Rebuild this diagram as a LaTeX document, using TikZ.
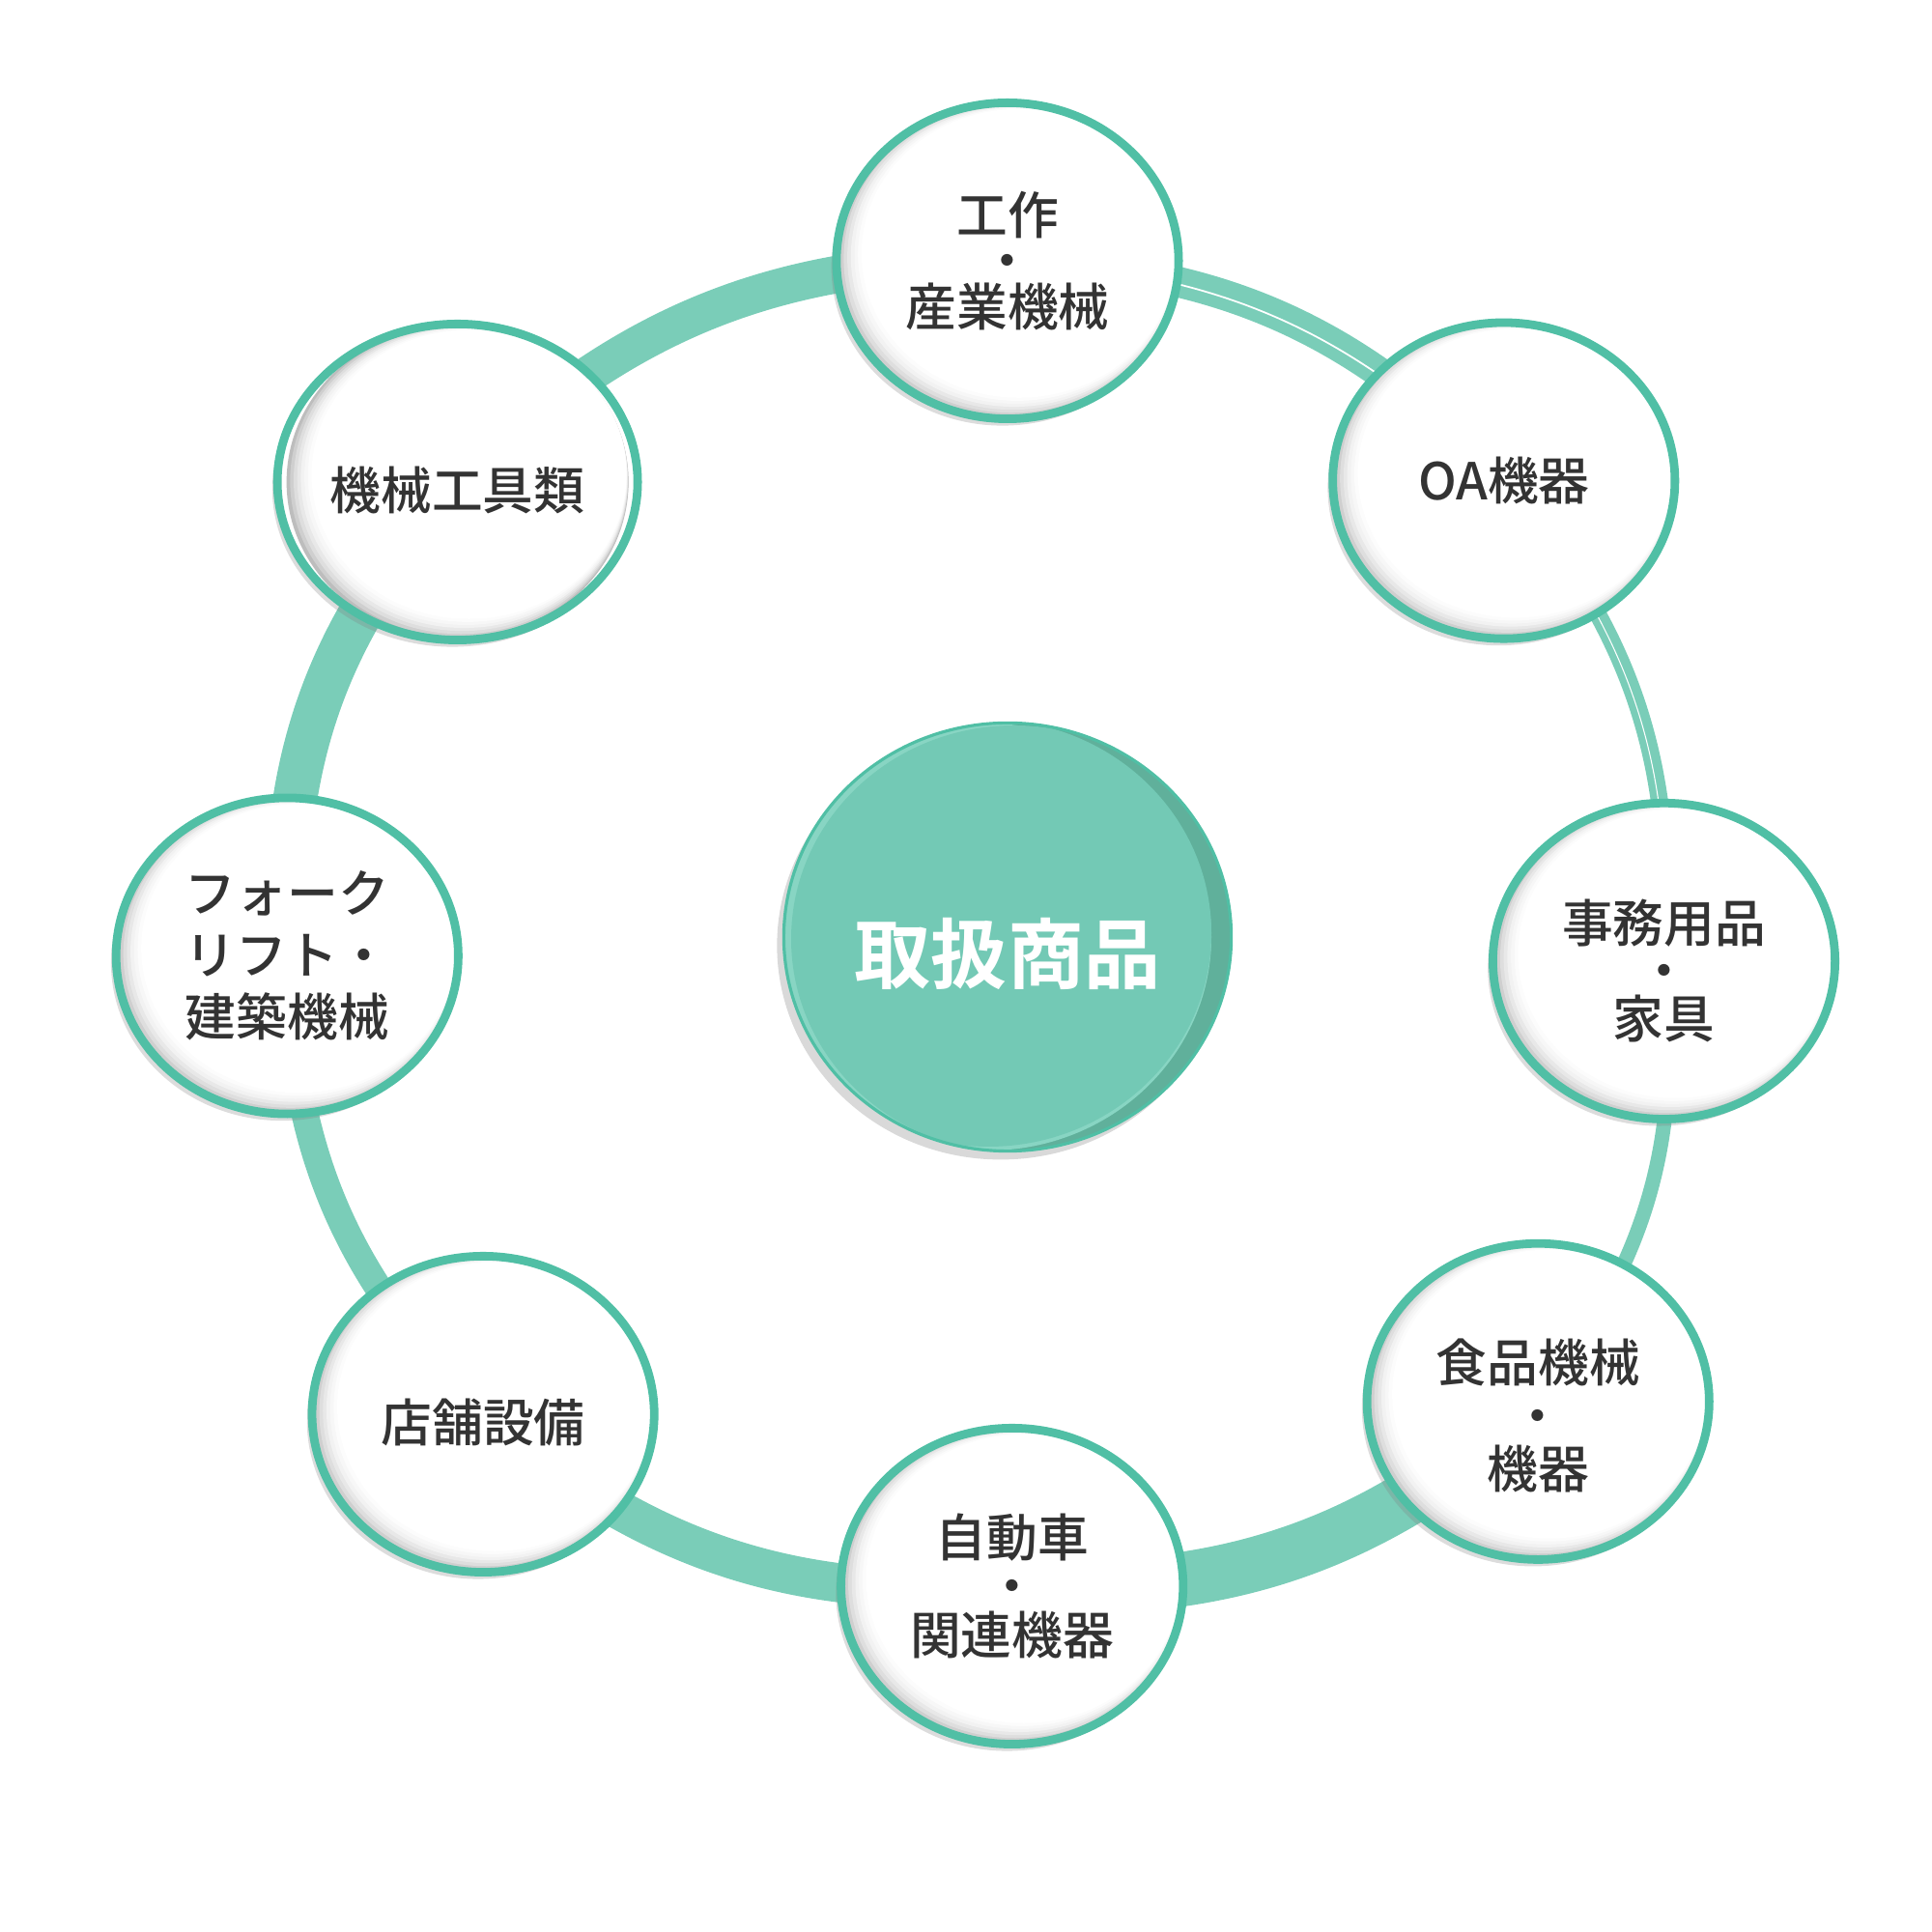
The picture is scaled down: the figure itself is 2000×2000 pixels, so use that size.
\documentclass[tikz,border=0pt]{standalone}
\usepackage{fontspec}
\setmainfont{Noto Sans CJK JP}[BoldFont={Noto Sans CJK JP Medium}]
\newfontfamily\hubfont{Noto Sans CJK JP Bold}
\usetikzlibrary{positioning,shapes.geometric,shadows}
\definecolor{ringfill}{HTML}{7ACDB8}
\definecolor{edge}{HTML}{50BFA5}
\definecolor{hubmid}{HTML}{73C9B5}
\definecolor{hublight}{HTML}{88D5C3}
\definecolor{hubdark}{HTML}{60B09B}
\definecolor{ink}{HTML}{333333}
\pgfdeclarelayer{bg}
\pgfsetlayers{bg,main}

\begin{document}
\begin{tikzpicture}[x=0.01cm, y=0.01cm,
    item/.style={ellipse, minimum width=3.54cm, minimum height=3.27cm, inner sep=0pt,
      draw=edge, line width=2.5pt, fill=white, text=ink, align=center,
      font=\fontsize{15}{14.5}\selectfont\bfseries,
      drop shadow={shadow xshift=-1.5pt, shadow yshift=-2pt, opacity=0.28},
      path picture={
        \foreach \k/\g in {0/26,2/19,4/13,6/9,8/5,10/3,12/1,14/0}
          \fill[black!\g] ([shift={(0.85*\k,0.55*\k)}]path picture bounding box.center)
            ellipse [x radius=177-\k, y radius=163.5-\k];
      }},
    oneline/.style={text height=16.4pt, text depth=0pt},
    hub/.style={ellipse, minimum width=4.63cm, minimum height=4.43cm, inner sep=0pt,
      draw=edge, line width=0.9pt, fill=hubdark, text=white,
      font=\fontsize{22.5}{27}\selectfont\hubfont,
      drop shadow={shadow xshift=-2pt, shadow yshift=-2.5pt, opacity=0.3},
      path picture={
        \fill[hublight] ([shift={(-20,0)}]path picture bounding box.center) ellipse [x radius=231, y radius=221];
        \clip ([shift={(7,-2)}]path picture bounding box.center) ellipse [x radius=231, y radius=221];
        \fill[hubmid] ([shift={(-20,4)}]path picture bounding box.center) ellipse [x radius=231, y radius=221];
      }},
    band/.style={draw=ringfill, line cap=butt},
    streak/.style={draw=white, line width=0.5pt}]
  \useasboundingbox (0,0) rectangle (2000,2000);

  \node [hub, text height=27pt, text depth=0pt] (hub) at (1043,1030) {取扱商品};
  \path (hub) ++ (90:700) node [item, font=\fontsize{15}{13.5}\selectfont\bfseries] (kosaku) {工作\\・\\産業機械};
  \path (hub) ++ (42.6:698) node [item] (oa) {OA機器};
  \path (hub) ++ (-2.1:680) node [item, font=\fontsize{15}{14.2}\selectfont\bfseries] (jimu) {\rule{0pt}{18.4pt}事務用品\\・\\家具};
  \path (hub) ++ (-41.2:730) node [item, font=\fontsize{15}{15.6}\selectfont\bfseries] (shokuhin) {\rule{0pt}{21.2pt}食品機械\\・\\機器};
  \path (hub) ++ (-89.6:672) node [item] (jidosha) {自動車\\・\\関連機器};
  \path (hub) ++ (-137.7:734) node [item, oneline] (tenpo) {店舗設備};
  \path (hub) ++ (-178.5:746) node [item, font=\fontsize{15}{18.2}\selectfont\bfseries] (forklift) {フォーク\\リフト・\\建築機械};
  \path (hub) ++ (140.4:739) node [item, oneline] (kikai) {機械工具類};

  % brush ring behind the circles
  \begin{pgfonlayer}{bg}
    \draw [band, line width=11pt] (kikai.center) to [bend left=22] (kosaku.center);
    \draw [band, line width=9pt] (kosaku.center) to [bend left=22] (oa.center);
    \draw [streak] (kosaku.center) to [bend left=21] (oa.center);
    \draw [band, line width=5.1pt] (oa.center) to [bend left=22] (jimu.center);
    \draw [streak, line width=0.3pt] (oa.center) to [bend left=21.5] (jimu.center);
    \draw [band, line width=4.3pt] (jimu.center) to [bend left=22] (shokuhin.center);
    \draw [band, line width=16pt] (shokuhin.center) to [bend left=22] (jidosha.center);
    \draw [band, line width=11.5pt] (jidosha.center) to [bend left=22] (tenpo.center);
    \draw [band, line width=8pt] (tenpo.center) to [bend left=22] (forklift.center);
    \draw [band, line width=13pt] (forklift.center) to [bend left=22] (kikai.center);
  \end{pgfonlayer}
\end{tikzpicture}
\end{document}
